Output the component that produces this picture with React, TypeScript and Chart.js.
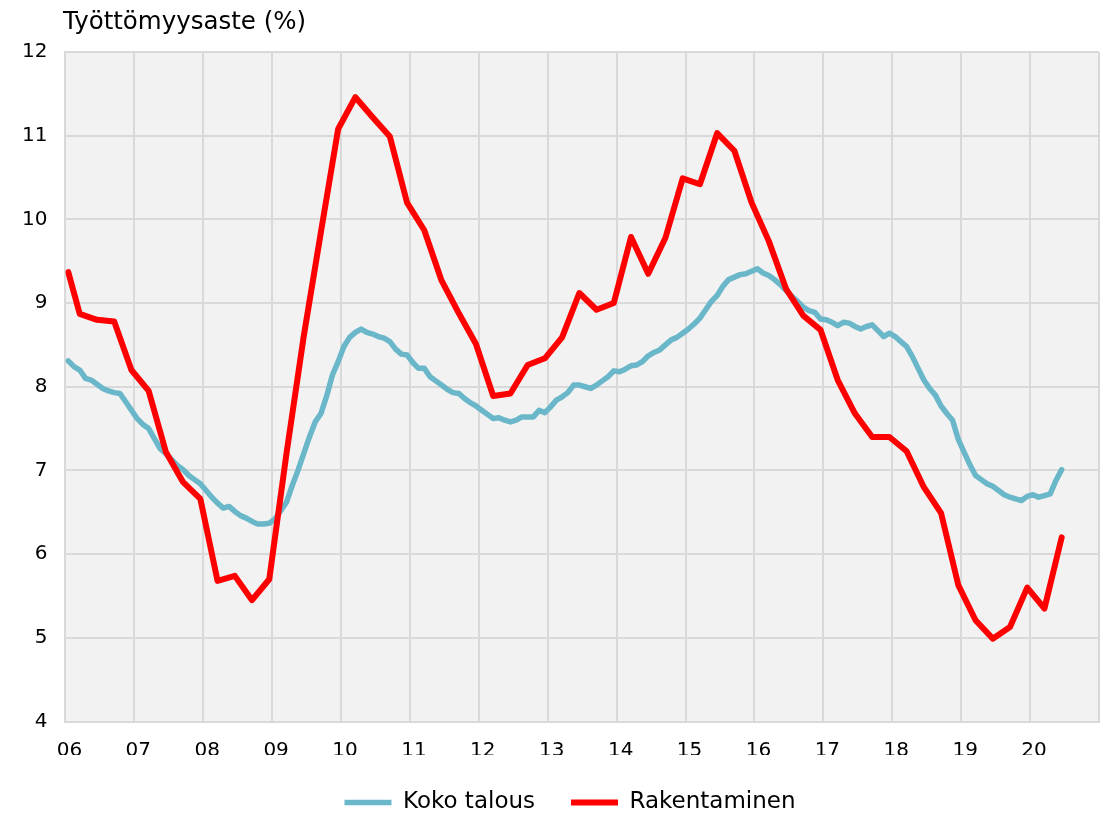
import React, { useEffect, useRef } from "react";
import { Chart, registerables } from "chart.js";

Chart.register(...registerables);

const chartTitle = "Työttömyysaste (%)";
const seriesNames = ["Koko talous", "Rakentaminen"];
const yearTickLabels = ["06", "07", "08", "09", "10", "11", "12", "13", "14", "15", "16", "17", "18", "19", "20"];

// Monthly, Jan 2006 .. Jun 2020
const kokoTalous = [
  8.31, 8.24, 8.2, 8.1, 8.08, 8.03, 7.98, 7.95, 7.93, 7.92,
  7.82, 7.72, 7.62, 7.55, 7.5, 7.38, 7.26, 7.2, 7.13, 7.06,
  7.01, 6.94, 6.89, 6.84, 6.76, 6.68, 6.61, 6.55, 6.57, 6.51,
  6.46, 6.43, 6.39, 6.36, 6.36, 6.37, 6.42, 6.52, 6.62, 6.82,
  7.0, 7.2, 7.4, 7.58, 7.68, 7.89, 8.14, 8.3, 8.48, 8.59,
  8.65, 8.69, 8.65, 8.63, 8.6, 8.58, 8.54, 8.45, 8.39, 8.38,
  8.29, 8.22, 8.22, 8.12, 8.07, 8.02, 7.97, 7.93, 7.92, 7.86,
  7.81, 7.77, 7.72, 7.67, 7.62, 7.63, 7.6, 7.58, 7.6, 7.64,
  7.64, 7.64, 7.72, 7.69, 7.76, 7.84, 7.88, 7.93, 8.02, 8.02,
  8.0, 7.98, 8.02, 8.07, 8.12, 8.19, 8.18, 8.21, 8.25, 8.26,
  8.3, 8.37, 8.41, 8.44, 8.5, 8.56, 8.59, 8.64, 8.69, 8.75,
  8.82, 8.92, 9.02, 9.09, 9.2, 9.28, 9.31, 9.34, 9.35, 9.38,
  9.41, 9.36, 9.33, 9.28, 9.22, 9.15, 9.08, 9.02, 8.95, 8.91,
  8.89, 8.81, 8.8, 8.77, 8.73, 8.77, 8.76, 8.72, 8.69, 8.72,
  8.74, 8.67, 8.6, 8.64, 8.6, 8.54, 8.48, 8.36, 8.22, 8.08,
  7.98, 7.9, 7.77, 7.68, 7.6, 7.37, 7.22, 7.07, 6.94, 6.89,
  6.84, 6.81, 6.76, 6.71, 6.68, 6.66, 6.64, 6.69, 6.71, 6.68,
  6.7, 6.72, 6.88, 7.01,
];

// Jan 2006, then quarter ends (Mar, Jun, Sep, Dec) up to Jun 2020
const rakentaminen = [
  9.37, 8.87, 8.8, 8.78, 8.2, 7.95, 7.22, 6.86, 6.66, 5.68,
  5.74, 5.45, 5.7, 7.2, 8.6, 9.85, 11.08, 11.46, 11.22, 10.99,
  10.2, 9.87, 9.27, 8.88, 8.51, 7.89, 7.92, 8.26, 8.34, 8.59,
  9.12, 8.92, 9.0, 9.79, 9.35, 9.78, 10.49, 10.42, 11.03, 10.82,
  10.2, 9.74, 9.17, 8.85, 8.68, 8.08, 7.68, 7.4, 7.4, 7.23,
  6.8, 6.49, 5.63, 5.21, 4.99, 5.13, 5.6, 5.35, 6.2,
];

const yMin = 4;
const yMax = 12;
const monthsTotal = 180;

const FONT = "'DejaVu Sans', sans-serif";

export default function App() {
  const ref = useRef<HTMLCanvasElement | null>(null);

  useEffect(() => {
    const canvas = ref.current;
    if (!canvas) return;

    const kokoData = kokoTalous.map((v, i) => ({ x: i + 0.5, y: v }));
    const rakData = rakentaminen.map((v, i) => ({ x: (i === 0 ? 0 : 3 * i - 1) + 0.5, y: v }));

    const bgPlugin = {
      id: "plotBg",
      beforeDraw(chart: any) {
        const { ctx, chartArea } = chart;
        // let y tick labels extend left of the (narrow) axis box
        if (chart.scales.y) chart.scales.y._computeLabelArea = () => undefined;
        ctx.save();
        ctx.fillStyle = "#f2f2f2";
        ctx.fillRect(chartArea.left, chartArea.top, chartArea.right - chartArea.left, chartArea.bottom - chartArea.top);
        ctx.restore();
      },
    };

    const titlePlugin = {
      id: "cornerTitle",
      afterDraw(chart: any) {
        const { ctx } = chart;
        ctx.save();
        ctx.font = `24.5px ${FONT}`;
        ctx.fillStyle = "#000";
        ctx.textAlign = "left";
        ctx.textBaseline = "alphabetic";
        ctx.fillText(chartTitle, 63, 29);
        ctx.restore();
      },
    };

    const chart = new Chart(canvas, {
      type: "line",
      data: {
        datasets: [
          {
            label: seriesNames[0],
            data: kokoData,
            borderColor: "#6bb7ca",
            backgroundColor: "#6bb7ca",
            borderWidth: 5.5,
            borderCapStyle: "round",
            borderJoinStyle: "round",
            pointRadius: 0,
            tension: 0,
            order: 1,
          },
          {
            label: seriesNames[1],
            data: rakData,
            borderColor: "#ff0000",
            backgroundColor: "#ff0000",
            borderWidth: 6,
            borderCapStyle: "round",
            borderJoinStyle: "round",
            pointRadius: 0,
            tension: 0,
            order: 0,
          },
        ],
      },
      options: {
        responsive: false,
        animation: false,
        layout: { padding: { left: 41, right: 4, top: 52, bottom: 0 } },
        plugins: {
          legend: {
            position: "bottom",
            labels: {
              usePointStyle: true,
              pointStyle: "line",
              pointStyleWidth: 47,
              padding: 36,
              color: "#000",
              font: { family: FONT, size: 23 },
              sort: (a: any, b: any) => a.datasetIndex - b.datasetIndex,
            },
          },
          tooltip: { enabled: false },
          title: { display: false },
        },
        scales: {
          x: {
            type: "linear",
            min: 0,
            max: monthsTotal,
            afterFit(scale: any) {
              scale.height = 33.5;
              scale.paddingLeft = 0;
              scale.paddingRight = 0;
            },
            afterBuildTicks(scale: any) {
              const t = [];
              for (let v = 0; v <= monthsTotal; v += 12) t.push({ value: v });
              scale.ticks = t;
            },
            ticks: {
              autoSkip: false,
              maxRotation: 0,
              padding: 17,
              labelOffset: 4,
              color: "#000",
              font: { family: FONT, size: 20 },
              callback: (v: any) => {
                const idx = Math.round(Number(v) / 12);
                return yearTickLabels[idx] ?? "";
              },
            },
            grid: { color: "#d9d9d9", lineWidth: 2, drawTicks: false },
            border: { color: "#d9d9d9", width: 2 },
          },
          y: {
            min: yMin,
            max: yMax,
            afterFit(scale: any) {
              scale.width = 24.4;
              scale.paddingTop = 0;
              scale.paddingBottom = 0;
            },
            ticks: {
              stepSize: 1,
              padding: 18,
              color: "#000",
              font: { family: FONT, size: 20 },
            },
            grid: { color: "#d9d9d9", lineWidth: 2, drawTicks: false },
            border: { color: "#d9d9d9", width: 2 },
          },
        },
      },
      plugins: [bgPlugin, titlePlugin],
    } as any);

    return () => chart.destroy();
  }, []);

  return (
    <div style={{ position: "absolute", left: 0, top: 0, width: 1103, height: 815, overflow: "hidden", background: "#fff" }}>
      <canvas ref={ref} width={1103} height={824} style={{ display: "block" }} />
    </div>
  );
}
